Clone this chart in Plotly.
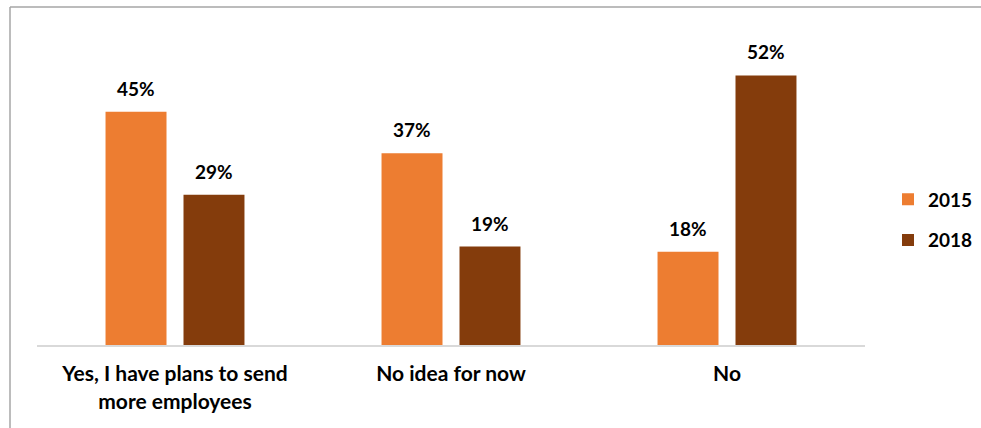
import plotly.graph_objects as go

categories = ["Yes, I have plans to send<br>more employees", "No idea for now", "No"]
years = ["2015", "2018"]
values_2015 = [45, 37, 18]
values_2018 = [29, 19, 52]
colors = {"2015": "#ED7D31", "2018": "#843C0C"}

W, H = 981, 428
L, R, T, B = 37, 116, 34, 83
FONT = "Lato"

fig = go.Figure()
for yr, vals in zip(years, [values_2015, values_2018]):
    fig.add_trace(go.Bar(
        x=categories, y=vals, name=yr,
        marker=dict(color=colors[yr], line=dict(width=0)),
        legendgroup=yr,
    ))

# value labels above each bar
for i, (yr, vals) in enumerate(zip(years, [values_2015, values_2018])):
    shift = -39 if i == 0 else 39
    for c, v in zip(categories, vals):
        fig.add_annotation(
            x=c, y=v, text=f"{v}%", showarrow=False,
            xshift=shift, yshift=10, yanchor="bottom",
            font=dict(family=FONT, size=19, color="#000000", weight="bold"),
        )

# outer frame (left and top edges)
pw, ph = W - L - R, H - T - B
fx0 = (10 - L) / pw
fy1 = (H - B - 7) / ph
fy0 = (H - B - H) / ph
fx1 = (W - L) / pw
fig.add_shape(type="line", xref="paper", yref="paper", x0=fx0, x1=fx0, y0=fy0, y1=fy1,
              line=dict(color="#a6a6a6", width=1.5))
fig.add_shape(type="line", xref="paper", yref="paper", x0=fx0, x1=fx1, y0=fy1, y1=fy1,
              line=dict(color="#a6a6a6", width=1.5))

fig.update_layout(
    width=W, height=H,
    margin=dict(l=L, r=R, t=T, b=B, autoexpand=False),
    barmode="group", bargap=0.435, bargroupgap=0.218,
    plot_bgcolor="white", paper_bgcolor="white",
    xaxis=dict(showline=True, linecolor="#d9d9d9", linewidth=2, ticks="",
               ticklabelstandoff=9,
               tickfont=dict(family=FONT, size=21, color="#000000", weight="bold")),
    yaxis=dict(range=[0, 60], visible=False, showgrid=False, zeroline=False),
    legend=dict(x=(888 - L) / pw, y=(H - B - 220) / ph, xanchor="left", yanchor="middle",
                traceorder="grouped", tracegroupgap=13,
                font=dict(family=FONT, size=19, color="#000000", weight="bold")),
)

fig.write_html("out.html")
